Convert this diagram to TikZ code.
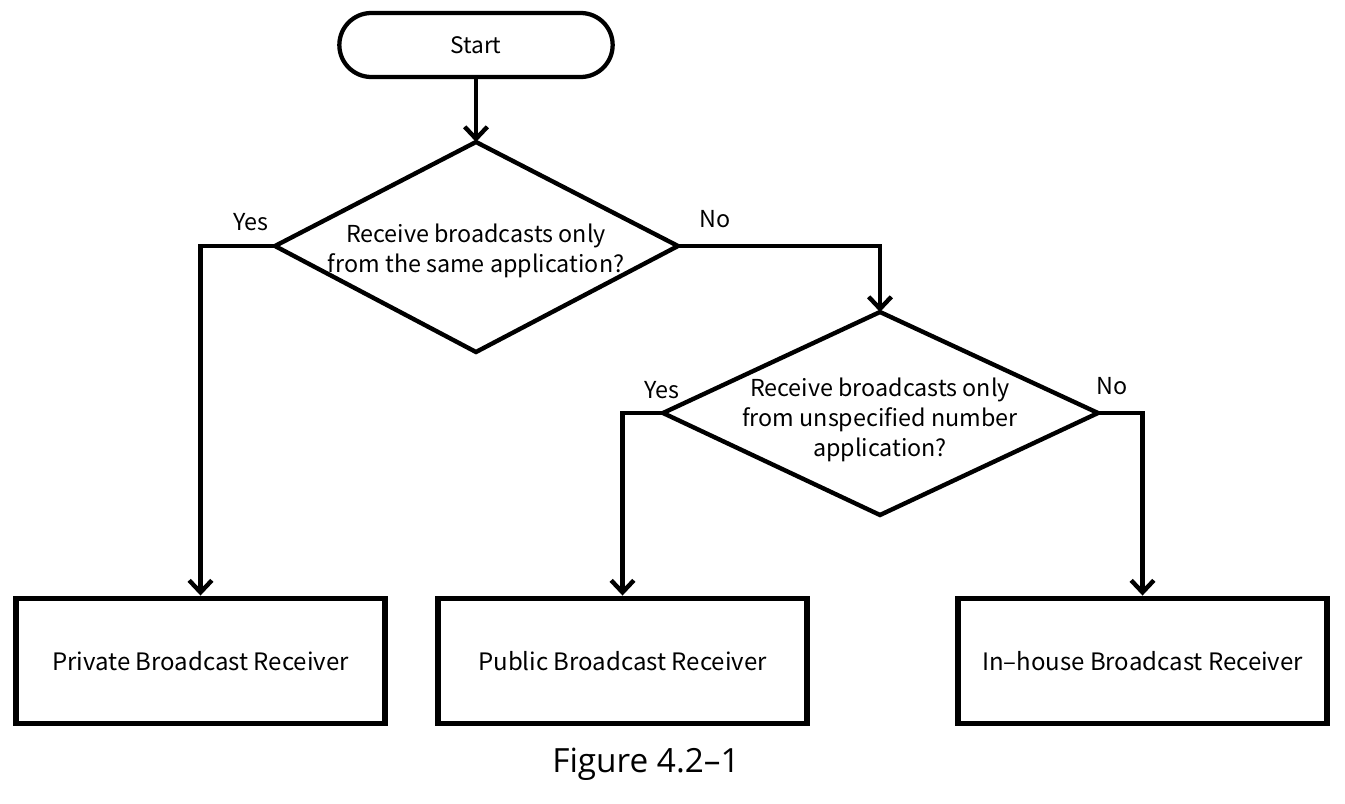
\documentclass[tikz,border=0pt]{standalone}
\usepackage{fontspec}
\setmainfont{Noto Sans CJK JP}
\newfontfamily\capfont{Open Sans}
\usetikzlibrary{arrows.meta}
\begin{document}
\begin{tikzpicture}[x=0.75pt,y=-0.75pt,
  lbl/.style={font=\fontsize{17.5pt}{22pt}\selectfont, inner sep=0pt},
  txt/.style={font=\fontsize{17.5pt}{22.5pt}\selectfont, align=center, inner sep=0pt},
  terminal/.style={draw, line width=3.2pt, rounded corners=24pt, minimum width=205pt, minimum height=48pt, font=\fontsize{17pt}{20pt}\selectfont},
  outbox/.style={draw, line width=4.2pt, minimum width=277pt, minimum height=94pt, font=\fontsize{18pt}{20pt}\selectfont},
  dia/.style={line width=3.3pt, line join=miter},
  conn/.style={line width=3.3pt, -{Straight Barb[length=9pt,width=17pt,line width=3.3pt]}}]
\useasboundingbox (0,0) rectangle (1345,803);
\fill[white] (0,0) rectangle (1345,803);

\node[terminal] (start) at (476,45) {Start};

% diamond 1
\coordinate (d1t) at (476,142);
\coordinate (d1l) at (275,246);
\coordinate (d1r) at (678,246);
\coordinate (d1b) at (476,352);
\draw[dia] (d1t) -- (d1r) -- (d1b) -- (d1l) -- cycle;
\node[txt] (q1) at (476,251) {Receive broadcasts only\\from the same application?};

% diamond 2
\coordinate (d2t) at (880,312);
\coordinate (d2l) at (663,413);
\coordinate (d2r) at (1098,413);
\coordinate (d2b) at (880,515);
\draw[dia] (d2t) -- (d2r) -- (d2b) -- (d2l) -- cycle;
\node[txt] (q2) at (880,420) {Receive broadcasts only\\from unspecified number\\application?};

% outputs
\node[outbox] (b1) at (200.5,661) {Private Broadcast Receiver};
\node[outbox] (b2) at (622.5,661) {Public Broadcast Receiver};
\node[outbox] (b3) at (1142.5,661) {In\textendash house Broadcast Receiver};

% connectors
\draw[conn] (start.south) -- (d1t);
\draw[conn] (d1l) -| (b1.north);
\draw[conn] (d1r) -| (d2t);
\draw[conn] (d2l) -| (b2.north);
\draw[conn] (d2r) -| (b3.north);

% labels
\node[lbl] (y1) at (251,222) {Yes};
\node[lbl] (n1) at (715,219) {No};
\node[lbl] (y2) at (662,390) {Yes};
\node[lbl] (n2) at (1112,386) {No};

\node[font=\capfont\fontsize{25pt}{28pt}\selectfont, inner sep=0pt] (cap) at (646,764) {Figure 4.2\textendash 1};
\end{tikzpicture}
\end{document}
